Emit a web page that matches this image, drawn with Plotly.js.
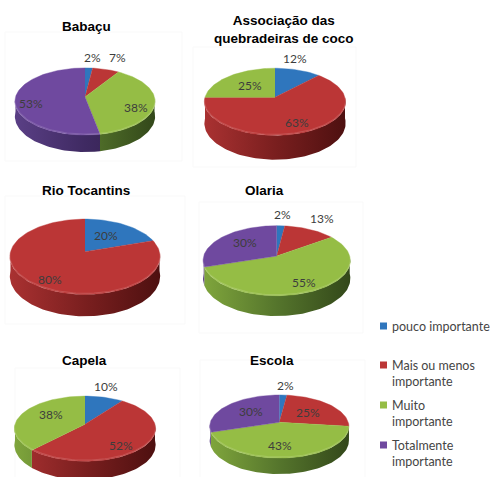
<!DOCTYPE html>
<html>
<head>
<meta charset="utf-8">
<script src="https://cdn.plot.ly/plotly-3.0.1.min.js"></script>
<style>html,body{margin:0;padding:0;background:#fff}#chart{width:490px;height:477px}</style>
</head>
<body>
<div id="chart"></div>
<script>
// Percentages per place, in the order of the categories below
const categories = ['pouco importante', 'Mais ou menos importante', 'Muito importante', 'Totalmente importante'];
const babacu = [2, 7, 38, 53];
const associacao = [12, 63, 25, 0];
const rioTocantins = [20, 80, 0, 0];
const olaria = [2, 13, 55, 30];
const capela = [10, 52, 38, 0];
const escola = [2, 25, 43, 30];

const legendLines = ['pouco importante', 'Mais ou menos<br>importante', 'Muito<br>importante', 'Totalmente<br>importante'];

// Slice colours: top face, then wall gradient from left through middle to right
const topColors = ['#2f76bd', '#bb3636', '#95bd45', '#6f499f'];
const wallLeft = ['#2a68a8', '#a93131', '#7fa53c', '#5a3f85'];
const wallMid = ['#1d4a78', '#7a1f1f', '#55752c', '#3f2a62'];
const wallRight = ['#12304f', '#4e1010', '#33481a', '#2f1d47'];

// Pie drawing setup: centre point, horizontal and vertical radius, wall height,
// frame, title and the anchor of each percentage label
const persp = 0.134;
const pies = [
  {values: babacu, cx: 85, cy: 97, a: 69.5, b: 33, d: 14.6, frame: [5, 32, 182, 161],
   title: 'Babaçu', tx: 86, ty: 26, spots: [[92, 57], [117, 57], [136, 107], [31, 103]]},
  {values: associacao, cx: 275, cy: 97.3, a: 70, b: 33, d: 21, frame: [193, 47, 356, 167],
   title: 'Associação das<br>quebradeiras de coco', tx: 284, ty: 29, spots: [[295, 58], [297, 122], [250, 85]]},
  {values: rioTocantins, cx: 85, cy: 251.7, a: 74.5, b: 37, d: 19, frame: [5, 196, 185, 324],
   title: 'Rio Tocantins', tx: 86, ty: 190, spots: [[106, 235], [50, 279]]},
  {values: olaria, cx: 276.7, cy: 256, a: 73, b: 34.4, d: 17.6, frame: [199, 202, 363, 333],
   title: 'Olaria', tx: 264, ty: 190, spots: [[282, 214], [322, 218], [304, 282], [245, 242]]},
  {values: capela, cx: 85, cy: 424.3, a: 70, b: 32, d: 16, frame: [15, 368, 180, 490],
   title: 'Capela', tx: 84, ty: 360, spots: [[106, 386], [121, 445], [51, 414]]},
  {values: escola, cx: 279.3, cy: 422.3, a: 69, b: 31, d: 13.8, frame: [200, 360, 365, 490],
   title: 'Escola', tx: 272, ty: 360, spots: [[285, 385], [308, 412], [280, 445], [251, 411]]}
];

const legendY = [326, 373, 413, 453];
const legendSquareY = [326, 365, 405, 445];

const rad = Math.PI / 180;

// Perspective projection of a rim point; angle runs clockwise from the top
function rim(p, deg, drop) {
  const s = Math.sin(deg * rad), c = Math.cos(deg * rad), w = 1 + persp * c;
  return [p.cx + p.a * s / w, p.cy + (-p.b * c + drop) / w];
}

function arc(p, from, to, drop) {
  const n = Math.max(2, Math.ceil((to - from) / 2));
  const pts = [];
  for (let i = 0; i <= n; i++) pts.push(rim(p, from + (to - from) * i / n, drop));
  return pts;
}

function polygon(pts, extra) {
  return Object.assign({
    x: pts.map(q => q[0]), y: pts.map(q => q[1]),
    type: 'scatter', mode: 'lines', fill: 'toself',
    hoverinfo: 'skip', showlegend: false
  }, extra);
}

const wallTraces = [], faceTraces = [], rimTraces = [], annotations = [], shapes = [];

pies.forEach(p => {
  let start = 0, spot = 0;
  shapes.push({type: 'rect', x0: p.frame[0], y0: p.frame[1], x1: p.frame[2], y1: p.frame[3],
    line: {color: '#f9f9f9', width: 1}, fillcolor: 'rgba(0,0,0,0)', layer: 'below'});

  p.values.forEach((v, i) => {
    if (!v) return;
    const from = start * 3.6, to = (start + v) * 3.6;
    start += v;

    // Wall: only the front part of the rim shows
    const wf = Math.max(from, 90), wt = Math.min(to, 270);
    if (wt > wf) {
      const edge = arc(p, wf, wt, 0);
      wallTraces.push(polygon(edge.concat(arc(p, wf, wt, p.d).reverse()), {
        line: {width: 0},
        fillgradient: {type: 'horizontal', start: p.cx - p.a, stop: p.cx + p.a,
          colorscale: [[0, wallLeft[i]], [0.5, wallMid[i]], [1, wallRight[i]]]}
      }));
      // Soft highlight along the front edge of the top face
      rimTraces.push({
        x: edge.map(q => q[0]), y: edge.map(q => q[1] - 1),
        type: 'scatter', mode: 'lines', hoverinfo: 'skip', showlegend: false,
        line: {width: 1.2, color: 'rgba(255,255,255,0.14)'}
      });
    }

    // Top face
    const face = [[p.cx, p.cy]].concat(arc(p, from, to, 0));
    faceTraces.push(polygon(face, {
      line: {width: 0.4, color: topColors[i]}, fillcolor: topColors[i], name: categories[i]
    }));

    const at = p.spots[spot++];
    annotations.push({x: at[0], y: at[1], text: v + '%', showarrow: false,
      xref: 'x', yref: 'y', xanchor: 'center', yanchor: 'middle',
      font: {family: 'Lato, sans-serif', size: 12, color: '#3d3d3d'}});
  });

  annotations.push({x: p.tx, y: p.ty, showarrow: false,
    text: p.title.split('<br>').map(t => '<b>' + t + '</b>').join('<br>'),
    xref: 'x', yref: 'y', xanchor: 'center', yanchor: 'middle',
    font: {family: '"Liberation Sans", sans-serif', size: 13.5, color: '#000'}
  });
});

// Legend keys
const legendKeys = {
  x: categories.map(() => 383.5), y: legendSquareY,
  type: 'scatter', mode: 'markers', hoverinfo: 'skip', showlegend: false,
  marker: {symbol: 'square', size: 7, color: topColors}
};
categories.forEach((c, i) => {
  annotations.push({x: 390, y: legendY[i], text: legendLines[i], showarrow: false,
    xref: 'x', yref: 'y', xanchor: 'left', yanchor: 'middle', align: 'left',
    font: {family: 'Lato, sans-serif', size: 12.5, color: '#454545'}});
});

const hidden = {visible: false, fixedrange: true};
Plotly.newPlot('chart', wallTraces.concat(faceTraces, rimTraces, [legendKeys]), {
  width: 490, height: 477,
  margin: {l: 0, r: 0, t: 0, b: 0},
  paper_bgcolor: '#fff', plot_bgcolor: '#fff',
  xaxis: Object.assign({range: [0, 490]}, hidden),
  yaxis: Object.assign({range: [477, 0]}, hidden),
  shapes: shapes, annotations: annotations, showlegend: false
}, {displayModeBar: false, staticPlot: true});
</script>
</body>
</html>
